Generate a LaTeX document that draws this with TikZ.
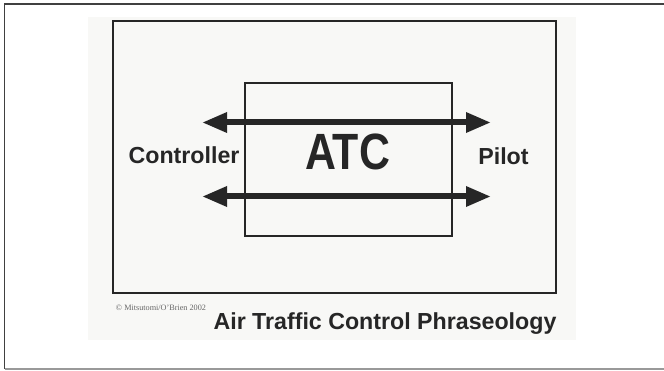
\documentclass[tikz,border=0pt]{standalone}
\usepackage{fontspec}
\setmainfont{Liberation Sans}
\newfontfamily\serifcr{Liberation Serif}
\usetikzlibrary{arrows.meta}
\definecolor{ink}{HTML}{262626}
\definecolor{scan}{HTML}{F8F8F6}
\tikzset{
  boxline/.style={draw=ink, line width=2.2pt},
  twoway/.style={ink, line width=6pt, {Triangle[length=25pt,width=19pt]}-{Triangle[length=25pt,width=19pt]}},
  lbl/.style={font=\fontsize{23.2}{26}\selectfont\bfseries, text=ink, inner sep=0pt, anchor=base},
}
\begin{document}
\begin{tikzpicture}[x=1pt,y=-1pt]
\useasboundingbox (0,0) rectangle (664,371);
\fill[white] (0,0) rectangle (664,371);
% outer frame (right edge outside picture)
\draw[draw=black!75, line width=1.3pt] (665,4) -- (4.5,4) -- (4.5,369);
\draw[draw=black!40, line width=1.3pt] (4.5,369) -- (665,369);
% scanned area
\fill[scan] (88,17) rectangle (576,340);
% big rectangle
\draw[boxline, line width=2.6pt] (113,21) rectangle (556,293);
% inner ATC box
\draw[boxline, line width=2pt] (245,83) rectangle (452,236);
% arrows
\coordinate (l1) at (202,122.5);
\coordinate (r1) at (491,122.5);
\coordinate (l2) at (202,196.5);
\coordinate (r2) at (491,196.5);
\draw[twoway] (l1) -- (r1);
\draw[twoway] (l2) -- (r2);
% labels
\node[lbl] (ctrl) at (184,163.5) {Controller};
\node[lbl] (pilot) at (503.5,164.5) {Pilot};
\node[lbl, font=\fontsize{51}{56}\selectfont\bfseries] (atc) at (347.5,170) {\scalebox{0.84}[1]{ATC}};
\node[lbl] (title) at (385,330) {Air Traffic Control Phraseology};
\node[font=\serifcr\fontsize{8.2}{9}\selectfont, text=black!60, inner sep=0pt, anchor=base] (copy) at (161,311) {© Mitsutomi/O’Brien 2002};
\end{tikzpicture}
\end{document}
